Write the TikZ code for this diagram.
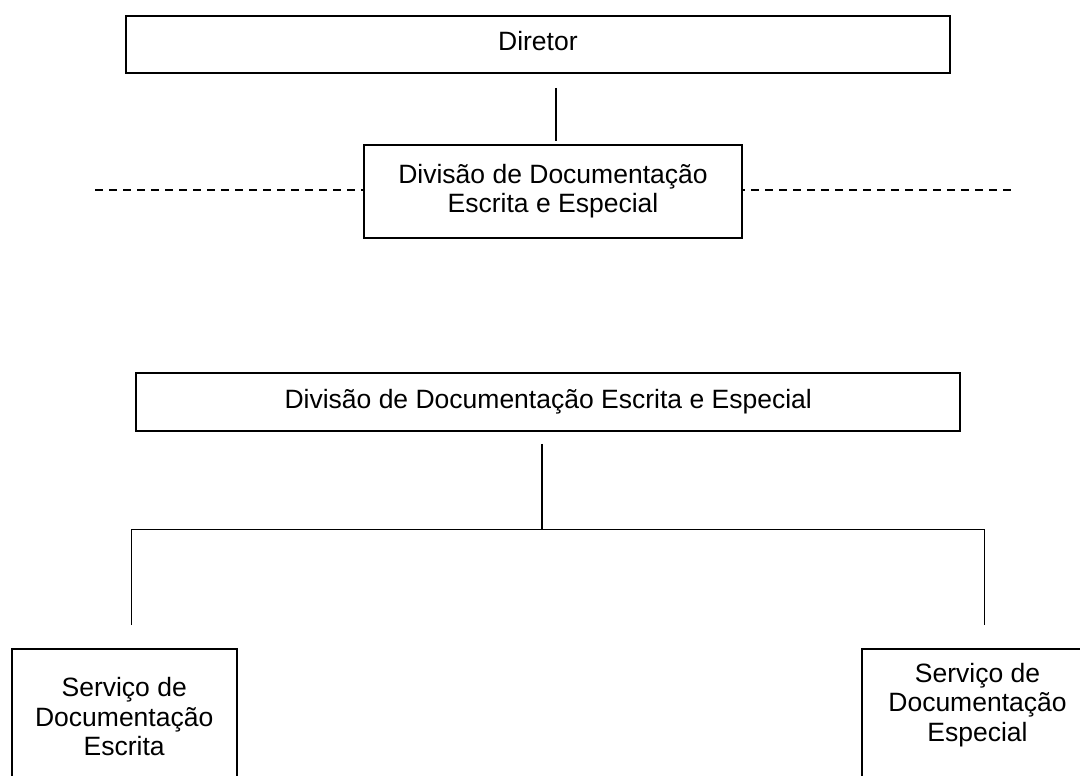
\documentclass[tikz,border=0pt]{standalone}
\usepackage{fontspec}
\setmainfont{Liberation Sans}
\usetikzlibrary{calc}
\tikzset{
  box/.style={draw=black, line width=1.9pt, rectangle, inner sep=0pt, align=center,
    font=\fontsize{26.5}{29.5}\selectfont},
  onebox/.style={box, text height=19pt, text depth=6pt},
  txt/.style={inner sep=0pt, align=center, font=\fontsize{26.5}{29.5}\selectfont},
  conn/.style={draw=black, line width=1.3pt},
  dashline/.style={draw=black, line width=1.5pt, dash pattern=on 7.5pt off 6.5pt}
}
\begin{document}
\begin{tikzpicture}[x=1pt, y=-1pt]
\useasboundingbox (0,0) rectangle (1080,776);
\begin{scope}
\clip (0,0) rectangle (1080,776);
% top part
\node[onebox, minimum width=824.3pt, minimum height=57.6pt] (dir) at (537.9,44.5) {Diretor};
\node[box, minimum width=378.6pt, minimum height=92.7pt] (div) at (553,191.3)
  {Divisão de Documentação\\Escrita e Especial};
\draw[conn] ($(dir.south)+(18.1,13.7)$) -- ($(div.north)+(3,-3)$);
\coordinate (dl) at (95,190);
\coordinate (dr) at (1010.7,190);
\draw[dashline] (dl) -- (dl -| div.west);
\draw[dashline] (dr) -- (dr -| div.east);
% bottom part
\node[onebox, minimum width=824.4pt, minimum height=58pt] (div2) at (548.2,402)
  {Divisão de Documentação Escrita e Especial};
\node[box, minimum width=225pt, minimum height=170pt, anchor=north] (se) at (124.2,648) {};
\node[box, minimum width=231pt, minimum height=170pt, anchor=north] (ee) at (977.5,648) {};
\node[txt, anchor=north] (setxt) at ($(se.north)+(0,29.5)$) {Serviço de\\Documentação\\Escrita};
\node[txt, anchor=north] (eetxt) at ($(ee.north)+(0,15)$) {Serviço de\\Documentação\\Especial};
\coordinate (jc) at (542,529.3);
\coordinate (jl) at (131.8,529.3);
\coordinate (jr) at (984.3,529.3);
\draw[conn] ($(div2.south)+(-6.2,12)$) -- (jc);
\draw[conn] ($(se.north -| jl)+(0,-23)$) -- (jl) -- (jr) -- ($(ee.north -| jr)+(0,-23)$);
\end{scope}
\end{tikzpicture}
\end{document}
